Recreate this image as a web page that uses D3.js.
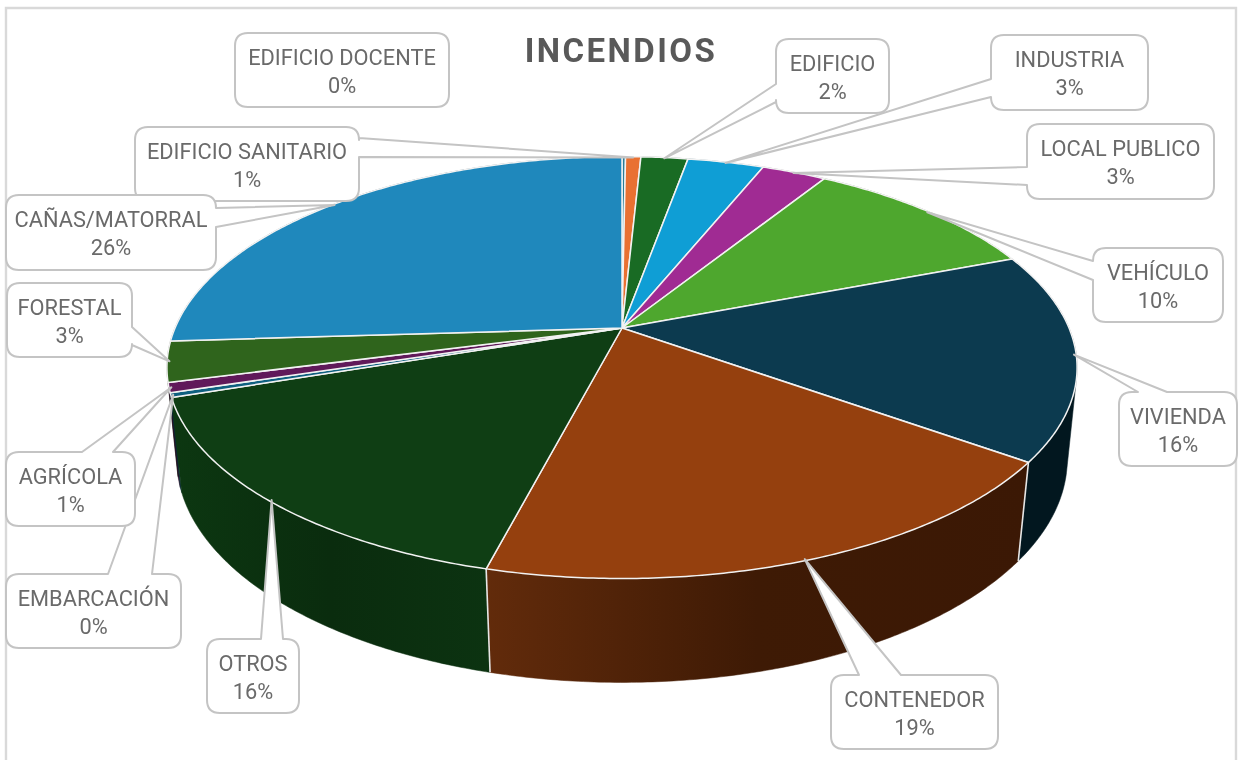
<!DOCTYPE html>
<html lang="es">
<head>
<meta charset="utf-8">
<title>INCENDIOS</title>
<script src="https://cdn.jsdelivr.net/npm/d3@7"></script>
<style>
html,body{margin:0;padding:0;background:#fff;overflow:hidden}
svg{display:block;filter:blur(0.45px)}
text{font-family:Roboto,"Liberation Sans",sans-serif}
</style>
</head>
<body>
<svg id="chart" width="1241" height="760"></svg>
<script>
// ---- data ----
const title = "INCENDIOS";
const categories = ["EDIFICIO DOCENTE","EDIFICIO SANITARIO","EDIFICIO","INDUSTRIA","LOCAL PUBLICO","VEHÍCULO","VIVIENDA","CONTENEDOR","OTROS","EMBARCACIÓN","AGRÍCOLA","FORESTAL","CAÑAS/MATORRAL"];
const values = [0.15,0.65,2,3.25,2.75,10.3,15.9,19,15.8,0.35,0.75,3.1,26];

// ---- styles ----
const topColors = ["#2a7d98","#E97132","#196B24","#0F9ED5","#A02B93","#4EA72E","#0C3A4F","#95400E","#0F3E14","#0F6080","#60195A","#2F641C","#1F88BC"];
const wallColorsLeft  = ["#0d3240","#5c2c12","#0a2e10","#06405a","#40113b","#1f4312","#02171F","#622B0B","#0C3711","#062a38","#2a0b26","#142a0c","#0c3a50"];
const wallColorsMid   = ["#0d3240","#5c2c12","#0a2e10","#06405a","#40113b","#1f4312","#02171F","#3E1A05","#0A2C0E","#062a38","#2a0b26","#142a0c","#0c3a50"];
const wallColorsRight = ["#0d3240","#5c2c12","#0a2e10","#06405a","#40113b","#1f4312","#02171F","#3B1805","#0C3311","#062a38","#2a0b26","#142a0c","#0c3a50"];

// ---- layout of the call-outs: [x0,y0,x1,y1,side,baseA,baseB] ----
const callouts = {
  "EDIFICIO DOCENTE":[235,33,449,107,null,0,0],
  "EDIFICIO SANITARIO":[135,127,359,201,"right",138,157],
  "CAÑAS/MATORRAL":[6,195,216,270,"right",208,227],
  "INDUSTRIA":[991,35,1148,110,"left",79,97],
  "EDIFICIO":[776,39,889,113,"left",84,102],
  "LOCAL PUBLICO":[1027,124,1214,199,"left",167,185],
  "VEHÍCULO":[1093,248,1223,322,"left",261,280],
  "VIVIENDA":[1119,392,1237,466,"top",1138,1167],
  "CONTENEDOR":[831,675,998,749,"top",859,901],
  "OTROS":[207,639,299,713,"top",261,283],
  "EMBARCACIÓN":[6,574,181,648,"top",108,152],
  "AGRÍCOLA":[6,452,135,526,"top",82,113],
  "FORESTAL":[7,283,132,357,"right",327,345]
};

// ---- perspective projection of the disc ----
const apex = {x:622, y:328};
const persp = {k:0.1876, top:{B:447, A:203.5, y0:0}, bottom:{B:438, A:216, y0:91, k:0.18}};
function project(angle, r, face){
  const X = r*Math.sin(angle), Y = -r*Math.cos(angle);
  const k = face.k === undefined ? persp.k : face.k;
  const w = 1 - k*Y;
  return [apex.x + face.B*X/w, apex.y + face.y0 + face.A*Y/w];
}

const svg = d3.select("#chart");
const defs = svg.append("defs");
const line = d3.line();
const total = d3.sum(values);
const arcs = d3.pie().sort(null).value(d=>d)(values);
const sweep = (a0,a1) => {
  const n = Math.max(2, Math.ceil((a1-a0)/0.01));
  return d3.range(n+1).map(i => a0 + (a1-a0)*i/n);
};

// frame
svg.append("path")
  .attr("d","M6,760V8H1236V760")
  .attr("fill","none").attr("stroke","#d9d9d9").attr("stroke-width",2.4);

// title
svg.append("text").text(title)
  .attr("x",621).attr("y",62).attr("text-anchor","middle")
  .attr("font-size",33).attr("font-weight",700)
  .attr("letter-spacing",2.45).attr("fill","#595959");

// walls, back to front
const wallOrder = arcs.map((a,i)=>({a,i}))
  .sort((p,q)=> d3.max(sweep(p.a.startAngle,p.a.endAngle),t=>-Math.cos(t)) - d3.max(sweep(q.a.startAngle,q.a.endAngle),t=>-Math.cos(t)));
wallOrder.forEach(({a,i})=>{
  const pts = sweep(a.startAngle,a.endAngle);
  const upper = pts.map(t=>project(t,1,persp.top));
  const lower = pts.map(t=>project(t,1,persp.bottom));
  const hull = d3.polygonHull(upper.concat(lower));
  const xs = hull.map(p=>p[0]);
  const id = "wall"+i;
  const g = defs.append("linearGradient").attr("id",id).attr("gradientUnits","userSpaceOnUse")
    .attr("x1",d3.min(xs)).attr("x2",d3.max(xs)).attr("y1",0).attr("y2",0);
  g.append("stop").attr("offset",0).attr("stop-color",wallColorsLeft[i]);
  g.append("stop").attr("offset",0.5).attr("stop-color",wallColorsMid[i]);
  g.append("stop").attr("offset",1).attr("stop-color",wallColorsRight[i]);
  svg.append("path").attr("d",line(hull)+"Z")
    .attr("fill",`url(#${id})`).attr("stroke",`url(#${id})`).attr("stroke-width",0.5);
});
// white seams on the front of the wall
arcs.forEach(a=>{
  if(-Math.cos(a.endAngle) > 0.4){
    svg.append("path")
      .attr("d",line([project(a.endAngle,1,persp.top),project(a.endAngle,1,persp.bottom)]))
      .attr("stroke","#e6e6e6").attr("stroke-width",1.6).attr("fill","none");
  }
});

// top face
arcs.forEach((a,i)=>{
  const rim = sweep(a.startAngle,a.endAngle).map(t=>project(t,1,persp.top));
  svg.append("path").attr("d",line([[apex.x,apex.y]].concat(rim))+"Z")
    .attr("fill",topColors[i]).attr("stroke","#f2f2f2").attr("stroke-width",1.5)
    .attr("stroke-linejoin","round");
});

// call-outs
function calloutPath(b, tip){
  const [x0,y0,x1,y1,side,a,c] = b, r = 13, p = d3.path();
  p.moveTo(x0+r,y0);
  if(side==="top"){p.lineTo(a,y0);p.lineTo(tip[0],tip[1]);p.lineTo(c,y0);}
  p.lineTo(x1-r,y0); p.quadraticCurveTo(x1,y0,x1,y0+r);
  if(side==="right"){p.lineTo(x1,a);p.lineTo(tip[0],tip[1]);p.lineTo(x1,c);}
  p.lineTo(x1,y1-r); p.quadraticCurveTo(x1,y1,x1-r,y1);
  p.lineTo(x0+r,y1); p.quadraticCurveTo(x0,y1,x0,y1-r);
  if(side==="left"){p.lineTo(x0,c);p.lineTo(tip[0],tip[1]);p.lineTo(x0,a);}
  p.lineTo(x0,y0+r); p.quadraticCurveTo(x0,y0,x0+r,y0);
  p.closePath();
  return p.toString();
}
Object.keys(callouts).forEach(name=>{
  const i = categories.indexOf(name), a = arcs[i], b = callouts[name];
  const tip = project((a.startAngle+a.endAngle)/2, 0.995, persp.top);
  const g = svg.append("g");
  g.append("path").attr("d",calloutPath(b,tip))
    .attr("fill","#fff").attr("stroke","#c4c4c4").attr("stroke-width",2).attr("stroke-linejoin","round");
  const cx = (b[0]+b[2])/2, cy = (b[1]+b[3])/2;
  g.append("text").text(name).attr("x",cx).attr("y",cy-5.5).attr("text-anchor","middle")
    .attr("font-size",21.8).attr("fill","#6a6a6a");
  g.append("text").text(d3.format(".0%")(values[i]/total)).attr("x",cx).attr("y",cy+22.5).attr("text-anchor","middle")
    .attr("font-size",21.8).attr("fill","#6a6a6a");
});
</script>
</body>
</html>
